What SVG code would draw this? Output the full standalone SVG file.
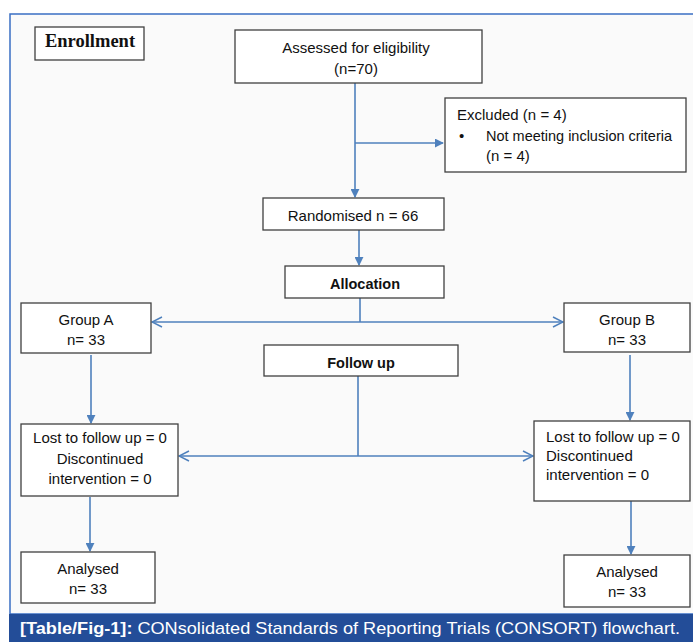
<svg xmlns="http://www.w3.org/2000/svg" width="693" height="642" viewBox="0 0 693 642">
<style>
.box{fill:#ffffff;stroke:#404040;stroke-width:1.3}
.t{font-family:"Liberation Sans",Arial,sans-serif;font-size:15px;fill:#111}
.b{font-weight:bold;font-size:14.5px}
.c{text-anchor:middle}
.ln{fill:none;stroke:#4f81bd;stroke-width:1.6}
</style>
<defs>
<marker id="fa" viewBox="0 0 10 10" refX="9" refY="5" markerWidth="9" markerHeight="9" markerUnits="userSpaceOnUse" orient="auto">
<path d="M0,0 L10,5 L0,10 Z" fill="#4f81bd"/>
</marker>
<marker id="oa" viewBox="0 0 12 12" refX="11" refY="6" markerWidth="12" markerHeight="12" markerUnits="userSpaceOnUse" orient="auto-start-reverse">
<path d="M1,1 L11,6 L1,11" fill="none" stroke="#4f81bd" stroke-width="1.5"/>
</marker>
</defs>
<rect x="0" y="0" width="693" height="642" fill="#ffffff"/>
<rect x="10" y="14" width="690" height="600" fill="#fafafa" stroke="#3a6fc4" stroke-width="1.5"/>
<rect x="9" y="614" width="684" height="28" fill="#234d98"/>
<text x="20" y="634" font-family="Liberation Sans,Arial,sans-serif" font-size="17" fill="#ffffff" textLength="660" lengthAdjust="spacingAndGlyphs"><tspan font-weight="bold">[Table/Fig-1]:</tspan> CONsolidated Standards of Reporting Trials (CONSORT) flowchart.</text>

<g id="connectors">
<path class="ln" d="M355,83 V197" marker-end="url(#fa)"/>
<path class="ln" d="M355,143 H443" marker-end="url(#fa)"/>
<path class="ln" d="M359,230 V265" marker-end="url(#fa)"/>
<path class="ln" d="M360,298 V322"/>
<path class="ln" d="M152,322 H563" marker-start="url(#oa)" marker-end="url(#oa)"/>
<path class="ln" d="M358,376 V456"/>
<path class="ln" d="M179,456 H533" marker-start="url(#oa)" marker-end="url(#oa)"/>
<path class="ln" d="M91,355 V423" marker-end="url(#fa)"/>
<path class="ln" d="M630,355 V420" marker-end="url(#fa)"/>
<path class="ln" d="M90,497 V551" marker-end="url(#fa)"/>
<path class="ln" d="M631,501 V554" marker-end="url(#fa)"/>
</g>

<g id="enrollment">
<rect class="box" x="35" y="27" width="109" height="33"/>
<text x="90" y="47" text-anchor="middle" font-family="Liberation Serif,Times New Roman,serif" font-weight="bold" font-size="18.5" fill="#111">Enrollment</text>
</g>
<g id="assessed">
<rect class="box" x="235" y="30" width="247" height="53"/>
<text class="t c" x="356" y="53">Assessed for eligibility</text>
<text class="t c" x="356" y="74">(n=70)</text>
</g>
<g id="excluded">
<rect class="box" x="445" y="98" width="241" height="74"/>
<text class="t" x="457" y="120">Excluded (n = 4)</text>
<text class="t" x="459" y="141">•</text>
<text class="t" x="486" y="141" textLength="186" lengthAdjust="spacingAndGlyphs">Not meeting inclusion criteria</text>
<text class="t" x="486" y="161">(n = 4)</text>
</g>
<g id="randomised">
<rect class="box" x="263" y="198" width="181" height="32"/>
<text class="t c" x="353" y="221">Randomised n = 66</text>
</g>
<g id="allocation">
<rect class="box" x="285" y="266" width="159" height="32"/>
<text class="t b c" x="365" y="289">Allocation</text>
</g>
<g id="groupA">
<rect class="box" x="21" y="303" width="130" height="50"/>
<text class="t c" x="86" y="325">Group A</text>
<text class="t c" x="86" y="345">n= 33</text>
</g>
<g id="groupB">
<rect class="box" x="564" y="303" width="126" height="49"/>
<text class="t c" x="627" y="325">Group B</text>
<text class="t c" x="627" y="345">n= 33</text>
</g>
<g id="followup">
<rect class="box" x="264" y="345" width="194" height="31"/>
<text class="t b c" x="361" y="368">Follow up</text>
</g>
<g id="lostA">
<rect class="box" x="21" y="424" width="157" height="72"/>
<text class="t c" x="100" y="443">Lost to follow up = 0</text>
<text class="t c" x="100" y="464">Discontinued</text>
<text class="t c" x="100" y="484">intervention = 0</text>
</g>
<g id="lostB">
<rect class="box" x="534" y="421" width="156" height="80"/>
<text class="t" x="546" y="442">Lost to follow up = 0</text>
<text class="t" x="546" y="461">Discontinued</text>
<text class="t" x="546" y="480">intervention = 0</text>
</g>
<g id="analysedA">
<rect class="box" x="21" y="552" width="134" height="51"/>
<text class="t c" x="88" y="574">Analysed</text>
<text class="t c" x="88" y="594">n= 33</text>
</g>
<g id="analysedB">
<rect class="box" x="564" y="555" width="126" height="52"/>
<text class="t c" x="627" y="577">Analysed</text>
<text class="t c" x="627" y="597">n= 33</text>
</g>
</svg>
